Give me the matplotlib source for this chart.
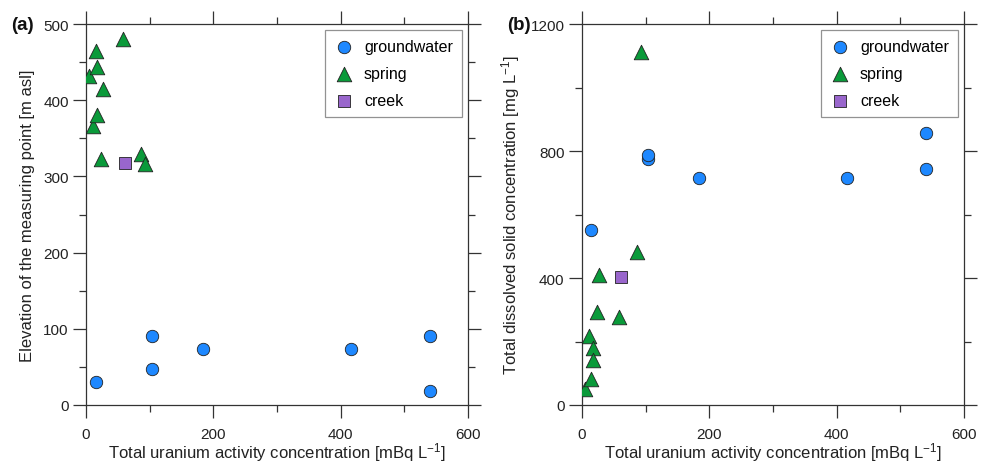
import numpy as np
import matplotlib
matplotlib.use("Agg")
import matplotlib.pyplot as plt
from matplotlib.ticker import MultipleLocator

plt.rcParams['font.family'] = ['Liberation Sans', 'DejaVu Sans']
plt.rcParams['mathtext.fontset'] = 'custom'
plt.rcParams['mathtext.rm'] = 'Liberation Sans'
plt.rcParams['mathtext.it'] = 'Liberation Sans'

# groundwater wells
gw_uranium = [15, 103, 104, 184, 417, 540, 540]
gw_elevation = [30, 47, 90, 73, 74, 90, 19]
gw_tds = [552, 774, 786, 716, 716, 742, 857]

# springs
sp_uranium = [5, 11, 15, 17, 18, 24, 27, 58, 86, 93]
sp_elevation = [432, 366, 464, 380, 444, 323, 415, 480, 330, 316]
sp_tds = [50, 216, 82, 178, 143, 292, 410, 276, 481, 1113]

# creek
cr_uranium = [61]
cr_elevation = [317]
cr_tds = [404]

BLUE = '#1E88FF'
GREEN = '#0A9A3A'
PURPLE = '#9966CC'
EDGE = '#222222'

fig = plt.figure(figsize=(9.83, 4.64), dpi=100)
ax_a = fig.add_axes([0.0875, 0.125, 0.3886, 0.821])
ax_b = fig.add_axes([0.592, 0.125, 0.3886, 0.821])

xlabel = 'Total uranium activity concentration [mBq L$^{-1}$]'


def draw_panel(ax, gw_y, sp_y, cr_y, ylim, ymajor, yminor, ylabel, tag):
    ax.scatter(gw_uranium, gw_y, s=80, marker='o', facecolor=BLUE,
               edgecolor=EDGE, linewidth=0.6, label='groundwater', zorder=3)
    ax.scatter(sp_uranium, sp_y, s=110, marker='^', facecolor=GREEN,
               edgecolor=EDGE, linewidth=0.6, label='spring', zorder=3)
    ax.scatter(cr_uranium, cr_y, s=85, marker='s', facecolor=PURPLE,
               edgecolor=EDGE, linewidth=0.6, label='creek', zorder=3)

    ax.set_xlim(0, 600)
    ax.set_ylim(*ylim)
    ax.xaxis.set_major_locator(MultipleLocator(200))
    ax.xaxis.set_minor_locator(MultipleLocator(100))
    ax.yaxis.set_major_locator(MultipleLocator(ymajor))
    ax.yaxis.set_minor_locator(MultipleLocator(yminor))
    ax.tick_params(which='both', direction='out', top=True, right=True,
                   color='#333333', width=0.9, labelsize=11, labelcolor='#222222')
    ax.tick_params(which='major', length=9.5)
    ax.tick_params(which='minor', length=5)
    ax.tick_params(axis='x', which='major', pad=6)
    ax.tick_params(axis='y', which='major', pad=3)
    for sp in ax.spines.values():
        sp.set_color('#333333')
        sp.set_linewidth(0.9)

    ax.set_xlabel(xlabel, fontsize=12, color='#222222', labelpad=0)
    ax.set_ylabel(ylabel, fontsize=12, color='#222222', labelpad=6)
    ax.text(-0.196, 1.0, tag, transform=ax.transAxes, fontsize=13.5,
            fontweight='bold', ha='left', va='center', color='#111111')

    leg = ax.legend(loc='upper right', fontsize=11.5, frameon=True,
                    fancybox=False, edgecolor='#777777', borderpad=0.55,
                    labelspacing=0.75, handletextpad=0.6, handlelength=1.3,
                    borderaxespad=0.4)
    leg.get_frame().set_linewidth(0.9)


draw_panel(ax_a, gw_elevation, sp_elevation, cr_elevation, (0, 500), 100, 50,
           'Elevation of the measuring point [m asl]', '(a)')
draw_panel(ax_b, gw_tds, sp_tds, cr_tds, (0, 1200), 400, 200,
           'Total dissolved solid concentration [mg L$^{-1}$]', '(b)')

fig.savefig('out.png', dpi=100)
